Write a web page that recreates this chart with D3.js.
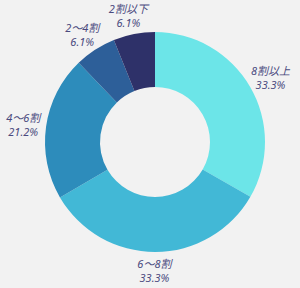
<!DOCTYPE html>
<html><head><meta charset="utf-8">
<script src="https://cdn.jsdelivr.net/npm/d3@7"></script>
<style>html,body{margin:0;padding:0;background:#f2f2f2;}</style>
</head><body>
<svg id="c" width="300" height="288"></svg>
<script>
const categories = ["8割以上", "6～8割", "4～6割", "2～4割", "2割以下"];
const values = [33.3, 33.3, 21.2, 6.1, 6.1];
const colors = ["#6ce5e8", "#42b8d6", "#2d8cbb", "#2d5f99", "#2e3169"];

const W = 300, H = 288, cx = 155, cy = 142, rOut = 110, rIn = 55;
const svg = d3.select("#c");
svg.append("rect").attr("width", W).attr("height", H).attr("fill", "#f2f2f2");
const g = svg.append("g").attr("transform", `translate(${cx},${cy})`);

const data = categories.map((c, i) => ({ cat: c, val: values[i], color: colors[i] }));
const pie = d3.pie().sort(null).value(d => d.val);
const arc = d3.arc().innerRadius(rIn).outerRadius(rOut);
const arcs = pie(data);

g.selectAll("path").data(arcs).join("path")
  .attr("d", arc).attr("fill", d => d.data.color);

const R0 = 114, lh = 14;
const lab = g.selectAll("g.lab").data(arcs).join("g").attr("class", "lab");
lab.each(function(d) {
  const a = (d.startAngle + d.endAngle) / 2;
  const s = Math.sin(a), c = Math.cos(a);
  const t = d3.select(this).append("text")
    .attr("text-anchor", "middle")
    .attr("font-family", "'Noto Sans','Noto Sans CJK JP',sans-serif")
    .attr("font-style", "italic")
    .attr("font-size", 11)
    .attr("fill", "#4a4a7e");
  t.append("tspan").attr("x", 0).attr("dy", 0).text(d.data.cat);
  t.append("tspan").attr("x", 0).attr("dy", lh).text(d.data.val.toFixed(1) + "%");
  const bb = t.node().getBBox();
  const w = bb.width, h = bb.height;
  const px = R0 * s + (w / 2) * s;
  const py = -R0 * c - (h / 2) * c;
  const ox = px - (bb.x + w / 2);
  const oy = py - (bb.y + h / 2);
  t.attr("transform", `translate(${ox},${oy})`);
});
</script>
</body></html>
